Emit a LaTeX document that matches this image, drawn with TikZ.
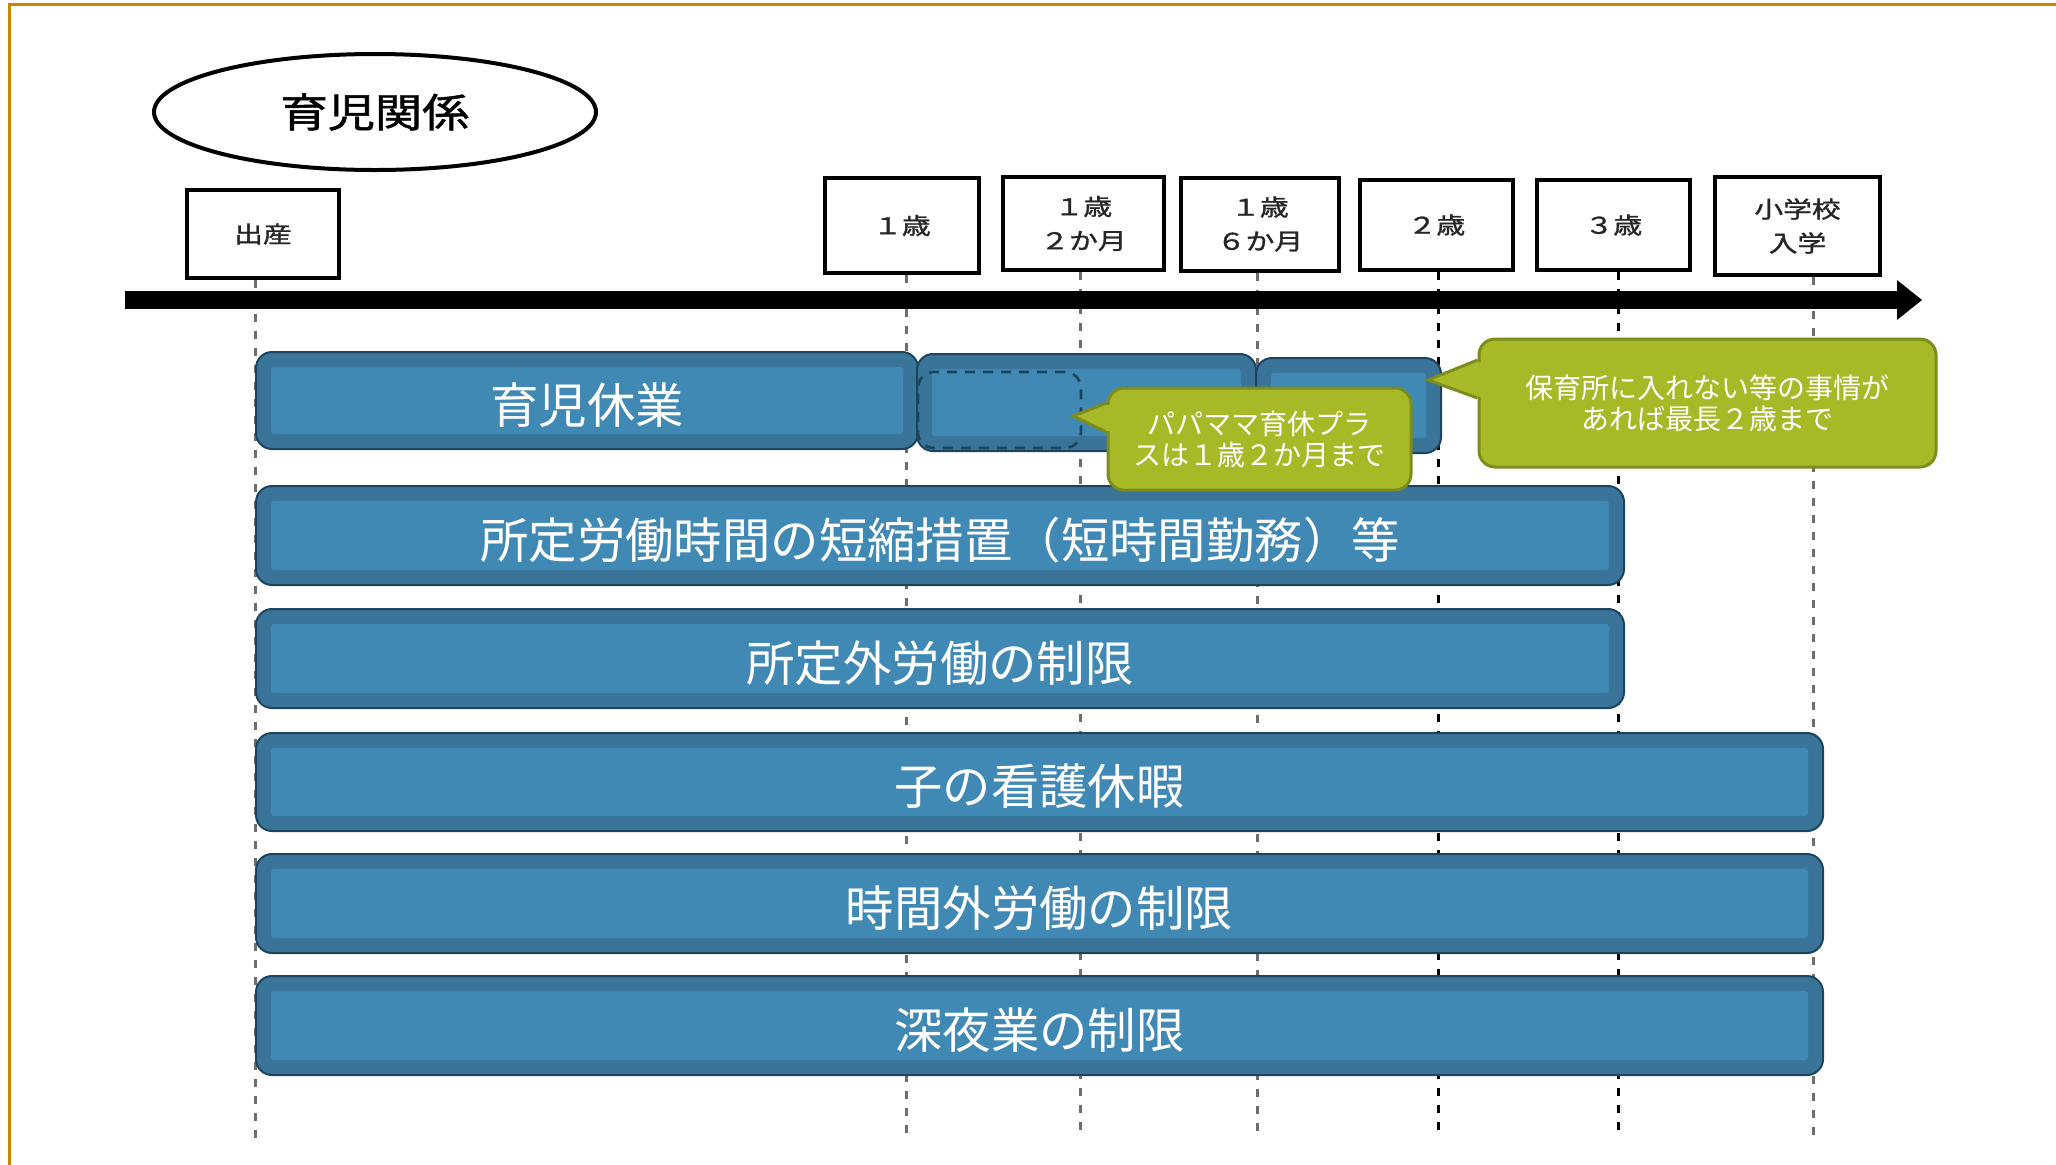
\documentclass[tikz,border=0pt]{standalone}
\usepackage{fontspec}
\usepackage{graphicx}
\setmainfont{Noto Sans CJK JP}
\newfontfamily\jpb[FakeBold=1.2]{Noto Sans CJK JP}
\usetikzlibrary{calc,shapes.geometric}
\newcommand{\hsq}[1]{\scalebox{1.25}[1]{#1}}
\definecolor{barout}{RGB}{58,117,153}
\definecolor{barin}{RGB}{64,137,180}
\definecolor{barline}{RGB}{28,68,94}
\definecolor{cfill}{RGB}{168,185,40}
\definecolor{cline}{RGB}{125,140,28}
\definecolor{frameor}{RGB}{204,133,0}
\definecolor{guidegray}{RGB}{110,110,110}
\begin{document}
\begin{tikzpicture}[x=0.5pt,y=-0.5pt,
  bar/.style={anchor=north west, rounded corners=8pt, fill=barout, draw=barline,
    line width=1pt, inner sep=0pt, text=white, font=\fontsize{24.2}{29}\selectfont,
    text height=25.5pt, text depth=3pt,
    path picture={\fill[barin,rounded corners=1.5pt]
      ([shift={(7.5pt,-7.5pt)}]path picture bounding box.north west) rectangle
      ([shift={(-7.5pt,7.5pt)}]path picture bounding box.south east);}},
  tbox/.style={draw=black, line width=2pt, fill=white, inner sep=0pt, align=center,
    font=\jpb\fontsize{11.5}{17}\selectfont, text=black!85},
  guide/.style={draw=guidegray, line width=1.5pt, dash pattern=on 4pt off 4.5pt},
  guideblk/.style={draw=black, line width=1.5pt, dash pattern=on 4pt off 4.5pt},
  callbox/.style={fill=cfill, draw=cline, line width=1.5pt, rounded corners=8pt,
    inner sep=0pt, text=white, align=center, font=\fontsize{14}{15.5}\selectfont},
  callwedge/.style={fill=cfill, draw=cline, line width=1.5pt, line join=miter},
  dashbox/.style={draw=barline, line width=1.3pt, dash pattern=on 5pt off 4pt,
    rounded corners=8pt, inner sep=0pt}
]
\useasboundingbox (0,0) rectangle (2056,1164);
% frame
\draw[frameor, line width=1.5pt] (9,1170) -- (9,4) -- (2060,4);

% title ellipse
\node[draw, ellipse, line width=2pt, minimum width=221pt, minimum height=58pt,
  font=\jpb\fontsize{20}{24}\selectfont] (title) at (375,112) {\scalebox{1.18}[1]{育児関係}};

% timeline boxes
\node[tbox, minimum width=76pt, minimum height=44pt] (birth) at (263,234) {\hsq{出産}};
\node[tbox, minimum width=77pt, minimum height=47.5pt] (t1) at (902,225.5) {\hsq{１歳}};
\node[tbox, minimum width=80.5pt, minimum height=46.5pt] (t2) at (1083.5,223.5) {\hsq{１歳}\\\hsq{２か月}};
\node[tbox, minimum width=79pt, minimum height=46.5pt] (t3) at (1260,224) {\hsq{１歳}\\\hsq{６か月}};
\node[tbox, minimum width=76.5pt, minimum height=45pt] (t4) at (1436.5,225) {\hsq{２歳}};
\node[tbox, minimum width=76.5pt, minimum height=45pt] (t5) at (1613.5,225) {\hsq{３歳}};
\node[tbox, minimum width=82.5pt, minimum height=49pt] (t6) at (1797.5,226) {\hsq{小学校}\\\hsq{入学}};

% guide line ends
\coordinate (g0) at (255,1142);
\coordinate (g1) at (906,1138);
\coordinate (g2) at (1080,1138);
\coordinate (g3) at (1257,1138);
\coordinate (g4) at (1438,1138);
\coordinate (g5) at (1618,1138);
\coordinate (g6) at (1813,1138);
\draw[guide] (birth.south -| g0) -- (g0);
\draw[guide] (t1.south -| g1) -- (g1);
\draw[guide] (t2.south -| g2) -- (g2);
\draw[guide] (t3.south -| g3) -- (g3);
\draw[guideblk] (t4.south -| g4) -- (g4);
\draw[guideblk] (t5.south -| g5) -- (g5);
\draw[guide] (t6.south -| g6) -- (g6);

% timeline arrow
\coordinate (a0) at (125,300);
\coordinate (a1) at (1899,300);
\coordinate (atip) at (1922,300);
\draw[line width=9pt] (a0) -- (a1);
\fill (1897,280) -- (atip) -- (1897,320) -- cycle;

% bars
\node[bar, minimum width=331pt, minimum height=48.5pt] (ikuji) at (255,351) {育児休業};
\node[bar, minimum width=169.5pt, minimum height=48.5pt] (ext1) at (916,353) {};
\node[bar, minimum width=92.5pt, minimum height=47.5pt] (ext2) at (1255,357) {};
\node[dashbox, minimum width=81.5pt, minimum height=38pt] (pp) at (999.5,410) {};
\node[bar, minimum width=684pt, minimum height=49.5pt] (tanshuku) at (255,485) {所定労働時間の短縮措置（短時間勤務）等};
\node[bar, minimum width=684pt, minimum height=49.5pt] (shoteigai) at (255,608) {所定外労働の制限};
\node[bar, minimum width=783.5pt, minimum height=49pt] (kango) at (255,732) {子の看護休暇};
\node[bar, minimum width=783.5pt, minimum height=49.5pt] (jikangai) at (255,853) {時間外労働の制限};
\node[bar, minimum width=783.5pt, minimum height=49.5pt] (shinya) at (255,975) {深夜業の制限};

% callout 1
\node[callbox, minimum width=151.5pt, minimum height=51pt] (c1) at (1259.5,439) {パパママ育休プラ\\スは１歳２か月まで};
\coordinate (p1) at (1073,416);
\path[callwedge] ($(c1.west)+(0,-36)$) -- (p1) -- ($(c1.west)+(0,-7)$);
\fill[cfill] ($(c1.west)+(-1,-34.5)$) rectangle ($(c1.west)+(3,-8.5)$);

% callout 2
\node[callbox, minimum width=228.5pt, minimum height=64pt] (c2) at (1707.5,403) {保育所に入れない等の事情が\\あれば最長２歳まで};
\coordinate (p2) at (1428,380);
\path[callwedge] ($(c2.west)+(0,-43)$) -- (p2) -- ($(c2.west)+(0,-5)$);
\fill[cfill] ($(c2.west)+(-1,-41.5)$) rectangle ($(c2.west)+(3,-6.5)$);
\end{tikzpicture}
\end{document}
